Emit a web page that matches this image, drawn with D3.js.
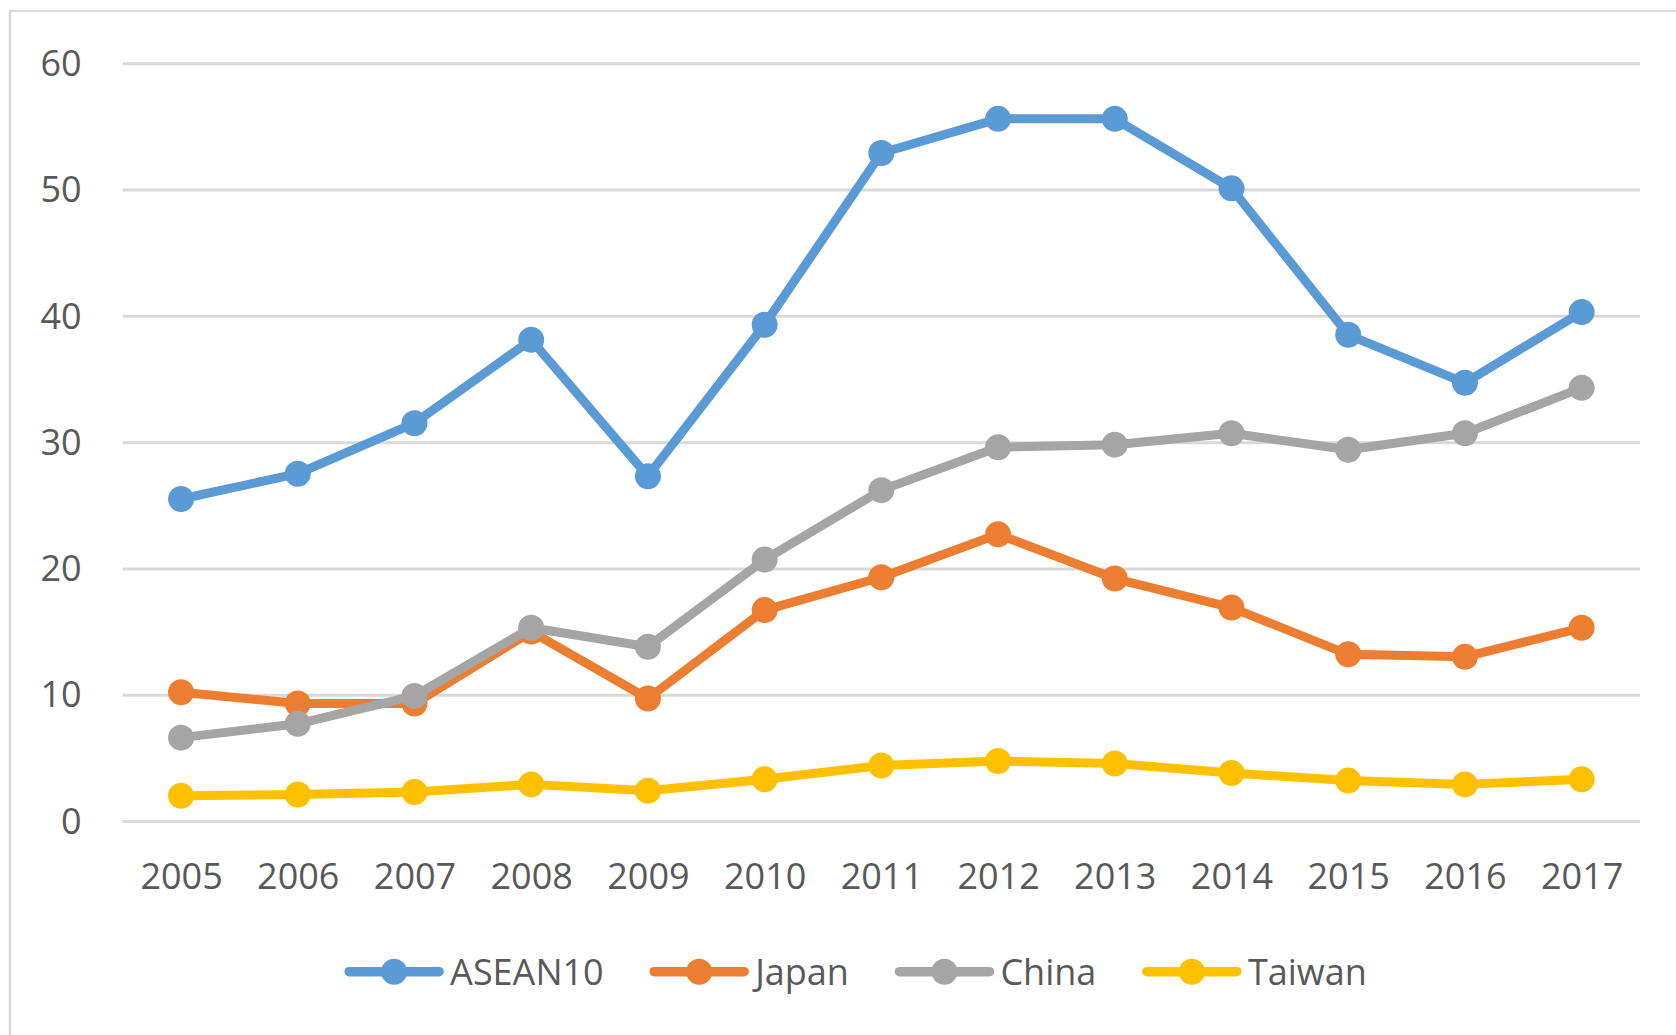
<!DOCTYPE html>
<html lang="en">
<head>
    <meta charset="UTF-8">
    <title>ASEAN10, Japan, China, Taiwan</title>
    <script src="https://d3js.org/d3.v7.min.js"></script>
    <style>
        body {
            margin: 0;
            padding: 0;
            background-color: #fff;
        }

        svg text {
            font-family: "Open Sans", sans-serif;
            fill: #595959;
        }
    </style>
</head>
<body>
    <svg width="1676" height="1035"></svg>
    <script>
        // data
        const years = ["2005", "2006", "2007", "2008", "2009", "2010", "2011", "2012", "2013", "2014", "2015", "2016", "2017"];
        const asean10 = [25.5, 27.5, 31.5, 38.1, 27.3, 39.3, 52.9, 55.6, 55.6, 50.1, 38.5, 34.7, 40.3];
        const japan = [10.2, 9.3, 9.3, 15.0, 9.7, 16.7, 19.3, 22.7, 19.2, 16.9, 13.2, 13.0, 15.3];
        const china = [6.6, 7.7, 9.9, 15.3, 13.8, 20.7, 26.2, 29.6, 29.8, 30.7, 29.4, 30.7, 34.3];
        const taiwan = [2.0, 2.1, 2.3, 2.9, 2.4, 3.3, 4.4, 4.75, 4.55, 3.8, 3.2, 2.9, 3.3];
        const yTicks = [0, 10, 20, 30, 40, 50, 60];

        const series = [
            {name: "ASEAN10", values: asean10, color: "#5B9BD5"},
            {name: "Japan", values: japan, color: "#ED7D31"},
            {name: "China", values: china, color: "#A5A5A5"},
            {name: "Taiwan", values: taiwan, color: "#FFC000"}
        ];

        const svg = d3.select("svg");
        const plot = {left: 122.7, right: 1640, top: 63.3, bottom: 821};

        const x = d3.scalePoint().domain(years).range([plot.left, plot.right]).padding(0.5);
        const y = d3.scaleLinear().domain([0, 60]).range([plot.bottom, plot.top]);

        // chart frame (right and bottom edges fall outside the picture)
        svg.append("rect")
            .attr("x", 10).attr("y", 11)
            .attr("width", 1700).attr("height", 1100)
            .attr("fill", "none")
            .attr("stroke", "#d9d9d9")
            .attr("stroke-width", 2.5);

        // gridlines
        svg.append("g")
            .attr("transform", `translate(${plot.left},0)`)
            .call(d3.axisLeft(y).tickValues(yTicks).tickSize(-(plot.right - plot.left)).tickFormat(""))
            .call(g => g.select(".domain").remove())
            .call(g => g.selectAll("line").attr("stroke", "#d9d9d9").attr("stroke-width", 3));

        // y labels
        svg.append("g")
            .attr("transform", `translate(${plot.left},0)`)
            .call(d3.axisLeft(y).tickValues(yTicks).tickSize(0).tickPadding(41))
            .call(g => g.select(".domain").remove())
            .call(g => g.selectAll("text")
                .attr("font-family", "Open Sans, sans-serif")
                .attr("font-size", 36)
                .attr("fill", "#595959")
                .attr("dy", "0.34em"));

        // x labels
        svg.append("g")
            .attr("transform", `translate(0,${plot.bottom})`)
            .call(d3.axisBottom(x).tickSize(0).tickPadding(42))
            .call(g => g.select(".domain").remove())
            .call(g => g.selectAll("text")
                .attr("font-family", "Open Sans, sans-serif")
                .attr("font-size", 36)
                .attr("fill", "#595959"));

        const line = d3.line()
            .x((d, i) => x(years[i]))
            .y(d => y(d));

        series.forEach(s => {
            const g = svg.append("g");
            g.append("path")
                .datum(s.values)
                .attr("d", line)
                .attr("fill", "none")
                .attr("stroke", s.color)
                .attr("stroke-width", 9)
                .attr("stroke-linejoin", "round");
            g.selectAll("circle")
                .data(s.values)
                .enter().append("circle")
                .attr("cx", (d, i) => x(years[i]))
                .attr("cy", d => y(d))
                .attr("r", 13)
                .attr("fill", s.color);
        });

        // legend
        const legendY = 971.7;
        const legendCenter = 855.7;
        const swatch = 90;
        const legend = svg.append("g");
        const items = legend.selectAll("g")
            .data(series)
            .enter().append("g");

        items.append("line")
            .attr("x1", 4.5).attr("x2", swatch + 4.5)
            .attr("y1", 0).attr("y2", 0)
            .attr("stroke", d => d.color)
            .attr("stroke-width", 9.5)
            .attr("stroke-linecap", "round");
        items.append("circle")
            .attr("cx", swatch / 2 + 4.5)
            .attr("cy", 0)
            .attr("r", 13)
            .attr("fill", d => d.color);
        items.append("text")
            .attr("x", swatch + 15.5)
            .attr("dy", "0.36em")
            .attr("font-size", 36)
            .text(d => d.name);

        let offset = 0;
        const positions = [];
        items.each(function() {
            const w = swatch + 15.5 + d3.select(this).select("text").node().getComputedTextLength();
            positions.push(offset);
            offset += w + 46;
        });
        const total = offset - 46;
        const start = legendCenter - total / 2;
        items.attr("transform", (d, i) => `translate(${start + positions[i]},${legendY})`);
    </script>
</body>
</html>
